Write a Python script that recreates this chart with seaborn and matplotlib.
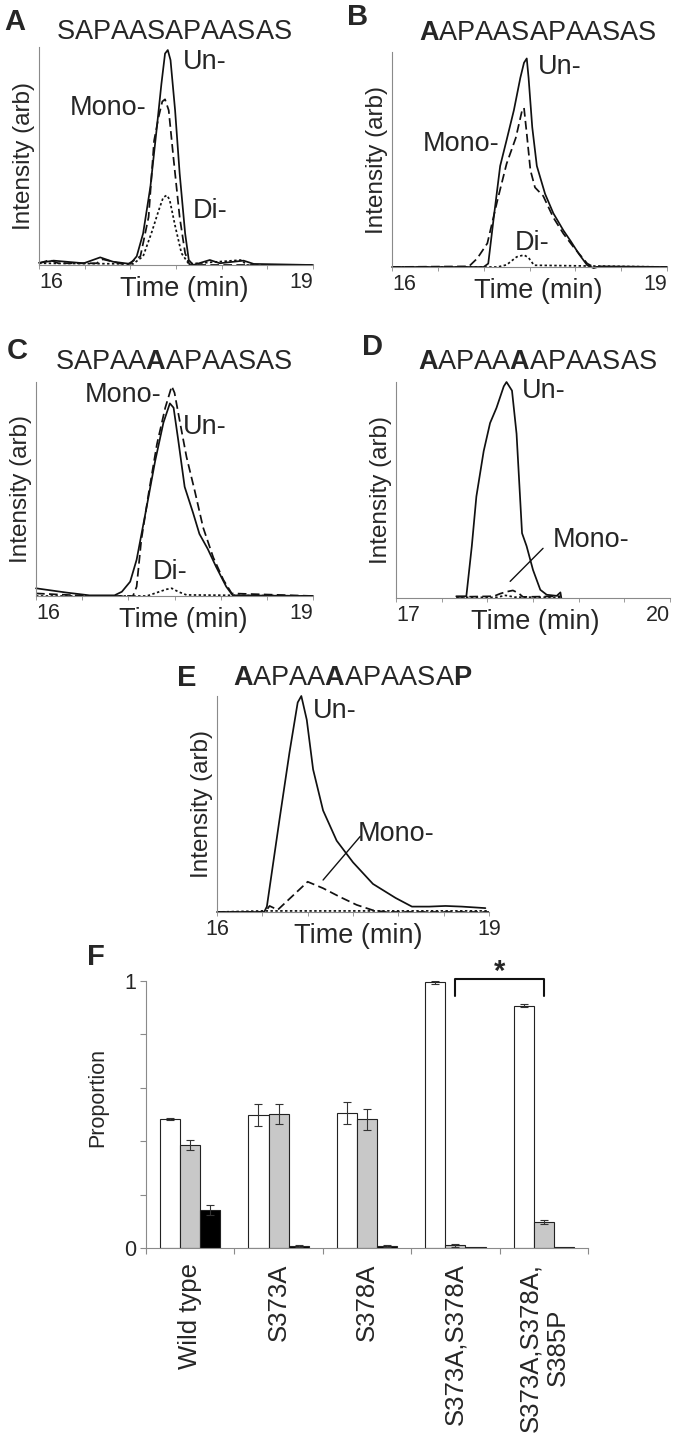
import numpy as np
import pandas as pd
import seaborn as sns
import matplotlib.pyplot as plt

sns.set_style('white')
plt.rcParams['font.family'] = ['Liberation Sans', 'DejaVu Sans']
plt.rcParams['mathtext.fontset'] = 'custom'
plt.rcParams['mathtext.rm'] = 'Liberation Sans'
plt.rcParams['mathtext.bf'] = 'Liberation Sans:bold'
plt.rcParams['mathtext.it'] = 'Liberation Sans:italic'

# ---- panel A: SAPAASAPAASAS (time in min, intensity relative to axis height)
a_un_t = [16.0, 16.16, 16.49, 16.67, 16.81, 17.0, 17.07, 17.14, 17.22, 17.29, 17.34, 17.38, 17.41,
          17.44, 17.49, 17.54, 17.60, 17.64, 17.69, 17.87, 17.98, 18.24, 18.35, 19.0]
a_un_v = [0.01, 0.02, 0.008, 0.035, 0.015, 0.005, 0.04, 0.145, 0.36, 0.63, 0.83, 0.97, 0.986,
          0.94, 0.71, 0.42, 0.145, 0.023, 0.0, 0.023, 0.008, 0.02, 0.005, 0.0]
a_mono_t = [16.0, 16.12, 16.21, 16.63, 16.70, 16.96, 17.11, 17.20, 17.26, 17.31, 17.35, 17.38,
            17.42, 17.47, 17.54, 17.60, 17.65, 19.0]
a_mono_v = [0.008, 0.023, 0.008, 0.008, 0.026, 0.0, 0.04, 0.22, 0.57, 0.68, 0.75, 0.76,
            0.71, 0.50, 0.22, 0.054, 0.0, 0.0]
a_di_t = [16.0, 17.03, 17.14, 17.23, 17.31, 17.36, 17.40, 17.43, 17.49, 17.56, 17.64, 18.22, 18.27, 19.0]
a_di_v = [0.008, 0.005, 0.04, 0.145, 0.25, 0.31, 0.32, 0.30, 0.18, 0.054, 0.005, 0.023, 0.0, 0.0]

# ---- panel B: AAPAASAPAASAS
b_un_t = [16.0, 17.0, 17.05, 17.11, 17.18, 17.25, 17.33, 17.40, 17.44, 17.47, 17.49, 17.53, 17.58,
          17.67, 17.76, 17.87, 17.95, 18.04, 18.13, 18.20, 18.27, 19.0]
b_un_v = [0.0, 0.0, 0.016, 0.23, 0.47, 0.59, 0.73, 0.88, 0.95, 0.97, 0.88, 0.65, 0.47,
          0.34, 0.25, 0.17, 0.12, 0.06, 0.008, -0.005, 0.003, 0.0]
b_mono_t = [16.0, 16.84, 16.93, 17.04, 17.15, 17.25, 17.35, 17.42, 17.44, 17.47, 17.51, 17.56,
            17.65, 17.76, 17.87, 17.98, 18.13, 18.20, 19.0]
b_mono_v = [0.0, 0.003, 0.04, 0.11, 0.31, 0.48, 0.60, 0.73, 0.74, 0.62, 0.45, 0.37,
            0.33, 0.23, 0.155, 0.093, 0.016, 0.0, 0.0]
b_di_t = [16.0, 17.15, 17.25, 17.36, 17.44, 17.49, 17.55, 19.0]
b_di_v = [0.0, 0.0, 0.01, 0.047, 0.056, 0.043, 0.008, 0.0]

# ---- panel C: SAPAAAAPAASAS
c_un_t = [16.0, 16.33, 16.58, 16.85, 16.93, 17.02, 17.09, 17.20, 17.29, 17.38, 17.45, 17.49, 17.54,
          17.61, 17.70, 17.77, 17.86, 17.95, 18.06, 18.13, 19.0]
c_un_v = [0.036, 0.016, 0.003, 0.003, 0.02, 0.067, 0.17, 0.42, 0.63, 0.81, 0.90, 0.88, 0.73,
          0.51, 0.39, 0.29, 0.22, 0.137, 0.044, 0.003, 0.0]
c_mono_t = [16.0, 16.58, 17.05, 17.09, 17.14, 17.22, 17.31, 17.40, 17.47, 17.50, 17.56, 17.63,
            17.72, 17.81, 17.92, 18.03, 18.12, 19.0]
c_mono_v = [0.012, 0.0, 0.0, 0.044, 0.26, 0.48, 0.71, 0.88, 0.98, 0.95, 0.81, 0.65,
            0.49, 0.32, 0.18, 0.075, 0.012, 0.0]
c_di_t = [16.0, 17.20, 17.31, 17.41, 17.47, 17.54, 17.63, 19.0]
c_di_v = [0.0, 0.0, 0.016, 0.031, 0.036, 0.02, 0.005, 0.0]

# ---- panel D: AAPAAAAPAASAS
d_un_t = [17.66, 17.77, 17.83, 17.88, 17.96, 18.03, 18.10, 18.18, 18.21, 18.27, 18.32, 18.38,
          18.43, 18.50, 18.58, 18.65, 18.76, 18.80, 18.81]
d_un_v = [0.008, 0.008, 0.24, 0.47, 0.68, 0.81, 0.88, 0.98, 1.0, 0.96, 0.76, 0.30,
          0.24, 0.13, 0.038, 0.015, 0.01, 0.026, 0.0]
d_mono_t = [17.66, 18.07, 18.14, 18.21, 18.28, 18.34, 18.39, 18.80]
d_mono_v = [0.005, 0.008, 0.02, 0.029, 0.035, 0.023, 0.005, 0.008]
d_di_t = [17.66, 18.10, 18.20, 18.30, 18.80]
d_di_v = [0.003, 0.003, 0.012, 0.004, 0.003]

# ---- panel E: AAPAAAAPAASAP
e_un_t = [16.0, 16.52, 16.55, 16.69, 16.80, 16.89, 16.93, 16.99, 17.06, 17.17, 17.32, 17.50,
          17.72, 17.97, 18.15, 18.34, 18.52, 18.70, 18.96]
e_un_v = [0.0, 0.0, 0.025, 0.43, 0.74, 0.97, 1.0, 0.89, 0.66, 0.47, 0.33, 0.23,
          0.13, 0.065, 0.025, 0.025, 0.028, 0.025, 0.018]
e_mono_t = [16.0, 16.53, 16.58, 16.67, 17.0, 17.17, 17.35, 17.54, 17.72, 17.86, 19.0]
e_mono_v = [0.0, 0.0, 0.028, 0.01, 0.14, 0.11, 0.071, 0.033, 0.008, 0.0, 0.0]
e_di_t = [16.0, 16.5, 19.0]
e_di_v = [0.0, 0.005, 0.005]

# ---- panel F: proportions
categories = ['Wild type', 'S373A', 'S378A', 'S373A,S378A', 'S373A,S378A,\nS385P']
states = ['Un', 'Mono', 'Di']
un_mean = [0.483, 0.498, 0.505, 0.995, 0.908]
un_err = [0.003, 0.042, 0.042, 0.005, 0.007]
mono_mean = [0.386, 0.502, 0.482, 0.010, 0.097]
mono_err = [0.019, 0.039, 0.039, 0.006, 0.008]
di_mean = [0.143, 0.008, 0.008, 0.002, 0.002]
di_err = [0.019, 0.003, 0.003, 0.0, 0.0]

W, H = 681, 1445
fig = plt.figure(figsize=(W / 100, H / 100), dpi=100)


def add_axes_px(left, top, right, bottom):
    return fig.add_axes([left / W, 1 - bottom / H, (right - left) / W, (bottom - top) / H])


def fig_text(x, y, s, **kw):
    fig.text(x / W, 1 - y / H, s, ha='center', va='center', **kw)


ink = '#111111'
axis_grey = '#8a8a8a'
solid = '-'
dashed = (0, (5, 2.5))
dotted = (0, (1.4, 1.4))
text_size = 19.5
letter_size = 21


def chromatogram(ax, traces, x0, x1, label_ha=('left', 'right'), xlabel_x=0.53):
    for t, v, ls in traces:
        sns.lineplot(x=t, y=v, ax=ax, color=ink, lw=1.25, linestyle=ls,
                     estimator=None, sort=False, clip_on=False)
    ax.set_xlim(x0, x1)
    ax.set_ylim(0, 1)
    ticks = np.arange(x0, x1 + 0.01, 0.5)
    ax.set_xticks(ticks)
    labels = [''] * len(ticks)
    labels[0], labels[-1] = str(x0), str(x1)
    ax.set_xticklabels(labels, fontsize=15.5)
    tl = ax.get_xticklabels()
    tl[0].set_ha(label_ha[0])
    tl[-1].set_ha(label_ha[1])
    ax.set_yticks([])
    ax.tick_params(axis='x', bottom=True, length=3, width=0.6, color=axis_grey, pad=2)
    for side in ['top', 'right']:
        ax.spines[side].set_visible(False)
    for side in ['left', 'bottom']:
        ax.spines[side].set_color(axis_grey)
        ax.spines[side].set_linewidth(0.8)
    ax.set_ylabel('Intensity (arb)', fontsize=17.5)
    ax.yaxis.set_label_coords(-0.015, 0.5)
    ax.set_xlabel('Time (min)', fontsize=text_size)
    ax.xaxis.set_label_coords(xlabel_x, -0.05)


def note(ax, t, v, s):
    ax.text(t, v, s, fontsize=text_size, ha='left', va='center')


# A
ax_a = add_axes_px(39, 47, 313, 265)
chromatogram(ax_a, [(a_di_t, a_di_v, dotted), (a_mono_t, a_mono_v, dashed), (a_un_t, a_un_v, solid)], 16, 19)
note(ax_a, 17.58, 0.93, 'Un-')
note(ax_a, 16.34, 0.72, 'Mono-')
note(ax_a, 17.68, 0.25, 'Di-')
fig_text(15, 22, 'A', fontsize=letter_size, fontweight='bold')
fig_text(174, 32, r'$\mathrm{SAPAASAPAASAS}$', fontsize=text_size)

# B
ax_b = add_axes_px(392, 52, 667, 267)
chromatogram(ax_b, [(b_di_t, b_di_v, dotted), (b_mono_t, b_mono_v, dashed), (b_un_t, b_un_v, solid)], 16, 19)
note(ax_b, 17.59, 0.93, 'Un-')
note(ax_b, 16.34, 0.57, 'Mono-')
note(ax_b, 17.34, 0.11, 'Di-')
fig_text(358, 17, 'B', fontsize=letter_size, fontweight='bold')
fig_text(538, 33, r'$\mathbf{A}\mathrm{APAASAPAASAS}$', fontsize=text_size)

# C
ax_c = add_axes_px(36, 382, 313, 596)
chromatogram(ax_c, [(c_di_t, c_di_v, dotted), (c_mono_t, c_mono_v, dashed), (c_un_t, c_un_v, solid)], 16, 19)
note(ax_c, 16.53, 0.94, 'Mono-')
note(ax_c, 17.59, 0.79, 'Un-')
note(ax_c, 17.26, 0.11, 'Di-')
fig_text(17, 351, 'C', fontsize=letter_size, fontweight='bold')
fig_text(174, 362, r'$\mathrm{SAPAA}\mathbf{A}\mathrm{APAASAS}$', fontsize=text_size)

# D
ax_d = add_axes_px(396, 382, 670, 598)
chromatogram(ax_d, [(d_di_t, d_di_v, dotted), (d_mono_t, d_mono_v, dashed), (d_un_t, d_un_v, solid)], 17, 20,
             xlabel_x=0.51)
note(ax_d, 18.38, 0.96, 'Un-')
note(ax_d, 18.72, 0.27, 'Mono-')
ax_d.plot([18.25, 18.61], [0.077, 0.23], color=ink, lw=1.0)
fig_text(372, 347, 'D', fontsize=letter_size, fontweight='bold')
fig_text(537, 362, r'$\mathbf{A}\mathrm{APAA}\mathbf{A}\mathrm{APAASAS}$', fontsize=text_size)

# E
ax_e = add_axes_px(217, 696, 489, 912)
chromatogram(ax_e, [(e_di_t, e_di_v, dotted), (e_mono_t, e_mono_v, dashed), (e_un_t, e_un_v, solid)], 16, 19,
             label_ha=('center', 'center'), xlabel_x=0.52)
note(ax_e, 17.06, 0.93, 'Un-')
note(ax_e, 17.55, 0.36, 'Mono-')
ax_e.plot([17.17, 17.58], [0.148, 0.35], color=ink, lw=1.0)
fig_text(187, 678, 'E', fontsize=letter_size, fontweight='bold')
fig_text(353, 678, r'$\mathbf{A}\mathrm{APAA}\mathbf{A}\mathrm{APAASA}\mathbf{P}$', fontsize=text_size)

# F
ax_f = add_axes_px(146, 981, 588, 1248)
df = pd.DataFrame({
    'category': categories * 3,
    'state': [s for s in states for _ in categories],
    'proportion': un_mean + mono_mean + di_mean,
})
sns.barplot(data=df, x='category', y='proportion', hue='state', hue_order=states,
            palette=['white', '#c8c8c8', 'black'], saturation=1, width=0.685,
            edgecolor='#222222', linewidth=0.8, errorbar=None, legend=False, ax=ax_f)
for container, errs in zip(ax_f.containers, [un_err, mono_err, di_err]):
    for bar, e in zip(container, errs):
        if e > 0:
            ax_f.errorbar(bar.get_x() + bar.get_width() / 2, bar.get_height(), yerr=e,
                          fmt='none', ecolor='#333333', elinewidth=0.8, capsize=3, capthick=0.8)
ax_f.set_xlim(-0.5, 4.5)
ax_f.set_ylim(0, 1)
ax_f.set_yticks([0, 1])
ax_f.set_yticklabels(['0', '1'], fontsize=15.5)
ax_f.set_yticks([0.2, 0.4, 0.6, 0.8], minor=True)
ax_f.set_xticks(range(len(categories)))
ax_f.set_xticklabels(categories, rotation=90, fontsize=18.5, va='top', ha='center')
ax_f.set_xticks(np.arange(-0.5, 4.6, 1.0), minor=True)
ax_f.tick_params(axis='x', which='major', bottom=True, length=0, pad=11)
ax_f.tick_params(axis='x', which='minor', bottom=True, length=4, width=0.8, color=axis_grey)
ax_f.tick_params(axis='y', which='both', left=True, length=4, width=0.8, color=axis_grey, pad=3)
for side in ['top', 'right']:
    ax_f.spines[side].set_visible(False)
for side in ['left', 'bottom']:
    ax_f.spines[side].set_color(axis_grey)
    ax_f.spines[side].set_linewidth(0.8)
ax_f.set_xlabel('')
ax_f.set_ylabel('Proportion', fontsize=15.5)
ax_f.yaxis.set_label_coords(-0.086, 0.565)
ax_f.plot([3.0, 3.0, 4.0, 4.0], [0.944, 1.006, 1.006, 0.944], color=ink, lw=1.5, clip_on=False)
ax_f.text(3.5, 1.035, '*', fontsize=21, fontweight='bold', ha='center', va='center')
fig_text(96, 957, 'F', fontsize=letter_size, fontweight='bold')

fig.savefig('out.png', dpi=100)
